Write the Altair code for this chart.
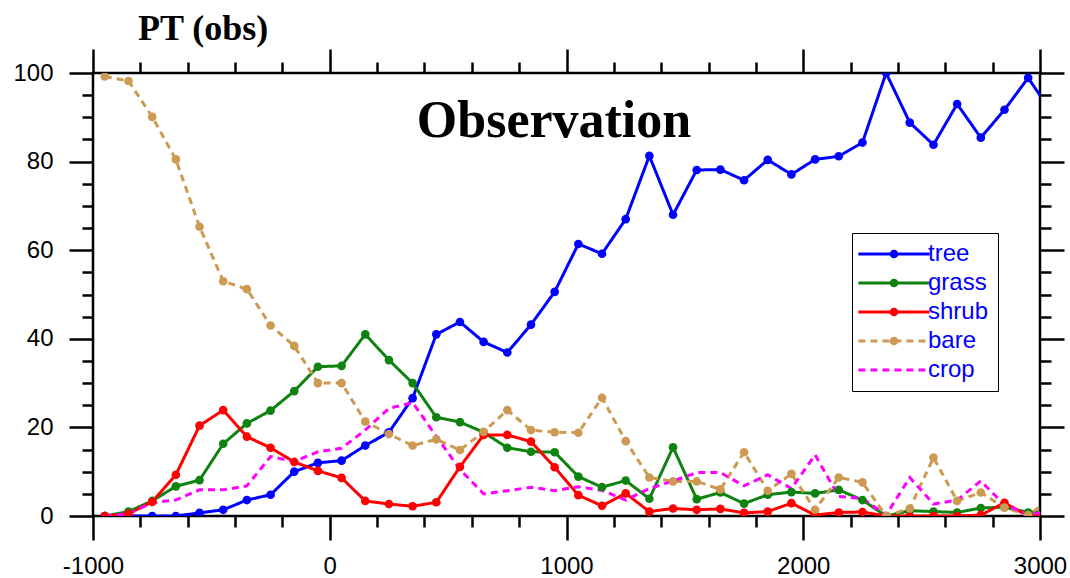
import altair as alt
import pandas as pd

years = [-950, -850, -750, -650, -550, -450, -350, -250, -150, -50,
         50, 150, 250, 350, 450, 550, 650, 750, 850, 950,
         1050, 1150, 1250, 1350, 1450, 1550, 1650, 1750, 1850, 1950,
         2050, 2150, 2250, 2350, 2450, 2550, 2650, 2750, 2850, 2950, 3050]

tree = [0, 0, 0, 0, 0.7, 1.4, 3.6, 4.8, 10, 12,
        12.5, 15.9, 18.9, 26.6, 41, 43.8, 39.3, 36.9, 43.2, 50.6,
        61.4, 59.2, 67, 81.3, 68, 78.1, 78.2, 75.8, 80.4, 77.1,
        80.5, 81.2, 84.3, 100, 88.8, 83.8, 93, 85.4, 91.7, 98.9, 91]

grass = [0, 1, 3.4, 6.7, 8.1, 16.3, 20.9, 23.8, 28.2, 33.7,
         33.9, 41, 35.2, 30, 22.3, 21.2, 18.9, 15.4, 14.5, 14.4,
         8.9, 6.5, 8, 3.9, 15.5, 3.8, 5.3, 2.8, 4.8, 5.4,
         5.1, 5.9, 3.6, 0, 1.2, 1, 0.8, 1.8, 2, 0.8, 1]

shrub = [0, 0.5, 3.2, 9.3, 20.4, 23.9, 17.9, 15.4, 12.2, 10.2,
         8.6, 3.4, 2.7, 2.2, 3.1, 11.1, 18.3, 18.3, 16.8, 11,
         4.7, 2.3, 5.1, 1, 1.7, 1.4, 1.6, 0.7, 1, 2.9,
         0.2, 0.8, 0.9, 0, 0, 0, 0, 0.2, 3, 0, 0.5]

bare = [99.2, 98.2, 90.1, 80.5, 65.3, 53, 51.2, 43, 38.4, 30,
        30, 21.3, 18.5, 15.9, 17.3, 14.9, 19, 23.9, 19.4, 18.9,
        18.8, 26.7, 16.9, 8.7, 7.8, 7.8, 6, 14.4, 5.7, 9.5,
        1.4, 8.7, 7.6, 0, 1.7, 13.2, 3.4, 5.3, 1.9, 0.2, 4]

crop = [0, 0.5, 3, 3.6, 5.9, 5.9, 6.8, 13.4, 12.3, 14.5,
        15.3, 19.4, 24.3, 25.6, 18, 10.5, 5, 5.7, 6.5, 5.7,
        6.6, 5.8, 3.6, 6.2, 7.9, 9.8, 9.8, 6.8, 9.3, 6.2,
        13.8, 4.4, 4, 0.2, 8.7, 2.7, 3.6, 7.9, 2.5, 0.4, 1]

series_names = ["tree", "grass", "shrub", "bare", "crop"]
series_colors = ["#0000ff", "#0f820f", "#ff0000", "#cc9a52", "#ff00ff"]
series_dashes = [[1, 0], [1, 0], [1, 0], [7, 5], [7, 5]]
marker_names = ["tree", "grass", "shrub", "bare"]
marker_colors = ["#0000ff", "#0f820f", "#ff0000", "#cc9a52"]

x_major = [-1000, 0, 1000, 2000, 3000]
x_minor = [-800, -600, -400, -200, 200, 400, 600, 800, 1200, 1400, 1600, 1800,
           2200, 2400, 2600, 2800]
y_major = [0, 20, 40, 60, 80, 100]
y_minor = [5, 10, 15, 25, 30, 35, 45, 50, 55, 65, 70, 75, 85, 90, 95]

rows = []
for name, vals in zip(series_names, [tree, grass, shrub, bare, crop]):
    for xv, yv in zip(years, vals):
        rows.append({"year": xv, "value": yv, "series": name})
df = pd.DataFrame(rows)

xscale = alt.Scale(domain=[-1000, 3000], nice=False, zero=False)
yscale = alt.Scale(domain=[0, 100], nice=False, zero=False)


def xenc(orient, values, size, labels):
    return alt.X("year:Q", scale=xscale, title=None,
                 axis=alt.Axis(orient=orient, values=values, tickSize=size,
                               labels=labels, labelPadding=14, labelFlush=False,
                               labelExpr="'' + datum.value", domain=False, grid=False))


def yenc(orient, values, size, labels):
    return alt.Y("value:Q", scale=yscale, title=None,
                 axis=alt.Axis(orient=orient, values=values, tickSize=size,
                               labels=labels, labelPadding=16, labelFlush=False,
                               labelExpr="'' + datum.value", domain=False, grid=False))


line_legend = alt.Legend(
    title=None, orient="none", legendX=759, legendY=160,
    direction="vertical", symbolType="M-8.9,0H8.9", symbolSize=64,
    symbolStrokeWidth=3, symbolOffset=21, labelFont="Liberation Sans",
    labelFontSize=24, labelColor="#0000ff", labelOffset=22, rowPadding=5,
    padding=9, strokeColor="black", fillColor="white", zindex=0,
)
dot_legend = alt.Legend(
    title=None, orient="none", legendX=759, legendY=160,
    direction="vertical", symbolType="circle", symbolSize=75,
    symbolStrokeWidth=0, symbolOffset=21, labelFont="Liberation Sans",
    labelFontSize=24, labelColor="transparent", labelOffset=22, rowPadding=5,
    padding=9, zindex=1,
)

color = alt.Color("series:N", sort=series_names,
                  scale=alt.Scale(domain=series_names, range=series_colors),
                  legend=line_legend)
dash = alt.StrokeDash("series:N", sort=series_names,
                      scale=alt.Scale(domain=series_names, range=series_dashes),
                      legend=line_legend)

lines = alt.Chart(df).mark_line(strokeWidth=3, clip=True).encode(
    x=xenc("bottom", x_major, 24, True),
    y=yenc("left", y_major, 24, True),
    color=color,
    strokeDash=dash,
    detail="series:N",
)

points = alt.Chart(df).transform_filter(
    alt.FieldOneOfPredicate(field="series", oneOf=marker_names)
).mark_point(filled=True, size=75, opacity=1, clip=True).encode(
    x=xenc("bottom", x_minor, 11, False),
    y=yenc("left", y_minor, 11, False),
    fill=alt.Fill("series:N", sort=marker_names,
                  scale=alt.Scale(domain=marker_names, range=marker_colors),
                  legend=dot_legend),
)

axes_a = alt.Chart(df).mark_point(opacity=0).encode(
    x=xenc("top", x_major, 24, False),
    y=yenc("right", y_major, 24, False),
)
axes_b = alt.Chart(df).mark_point(opacity=0).encode(
    x=xenc("top", x_minor, 11, False),
    y=yenc("right", y_minor, 11, False),
)

label = alt.Chart(pd.DataFrame({"t": ["Observation"]})).mark_text(
    font="Liberation Serif", fontSize=52, fontWeight="bold", color="black",
    align="center", baseline="alphabetic",
).encode(text="t:N", x=alt.value(461), y=alt.value(64))

chart = alt.layer(lines, points, axes_a, axes_b, label).resolve_scale(
    x="shared", y="shared"
).resolve_axis(
    x="independent", y="independent"
).resolve_legend(
    color="shared", fill="independent"
).properties(
    width=947, height=443,
    autosize="none",
    padding={"left": 93, "top": 73, "right": 30, "bottom": 62},
    title=alt.TitleParams("PT (obs)", anchor="start", frame="group",
                          font="Liberation Serif", fontSize=36, fontWeight="bold",
                          color="black", dx=45, offset=0),
    background="white",
).configure_view(
    stroke="black", strokeWidth=2.5
).configure_axis(
    tickColor="black", tickWidth=2.5, labelFont="Liberation Sans",
    labelFontSize=24, labelColor="black"
)

chart.save("out.html", embed_options={"renderer": "svg", "actions": False})
